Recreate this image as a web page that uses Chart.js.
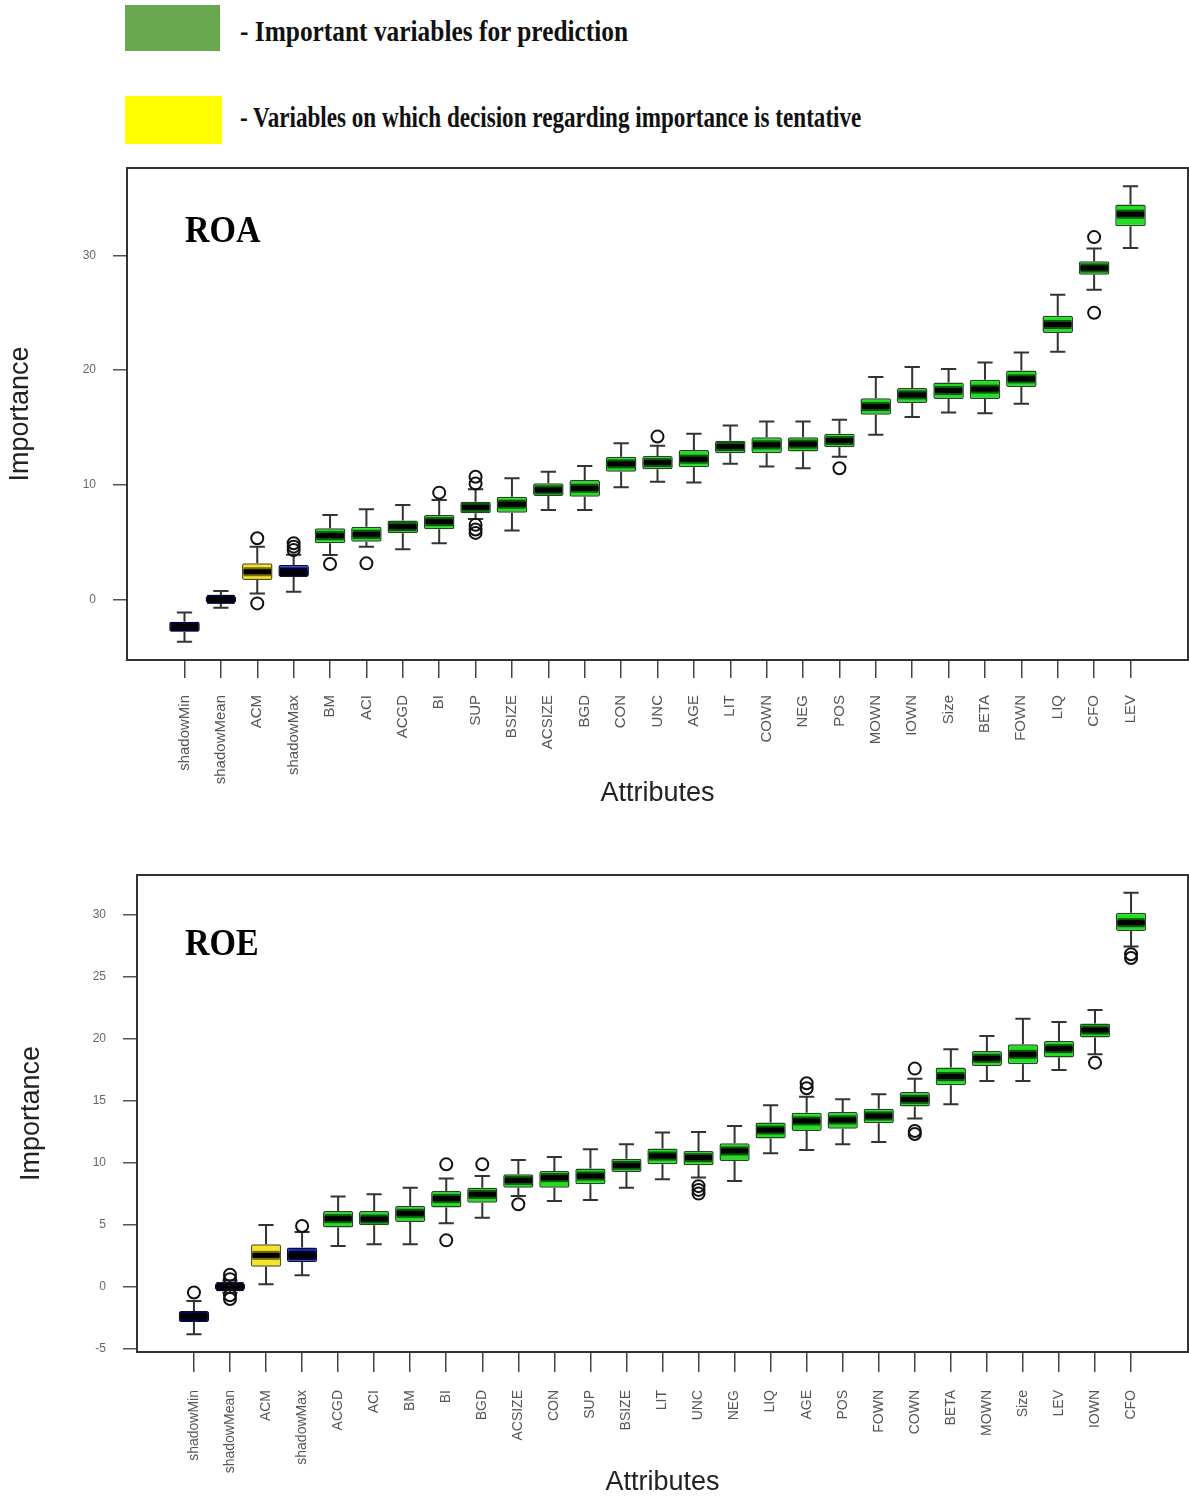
<!DOCTYPE html>
<html>
<head>
<meta charset="utf-8">
<script src="https://cdn.jsdelivr.net/npm/chart.js@4.4.1/dist/chart.umd.min.js"></script>
<style>
  html, body { margin: 0; padding: 0; background: #fff; width: 1189px; height: 1499px; overflow: hidden; }
  canvas { position: absolute; left: 0; }
  .key { position: absolute; left: 125px; }
  .key-text { position: absolute; left: 240px; font: bold 25px 'Liberation Serif', 'Times New Roman', serif; line-height: 30px; color: #111; white-space: nowrap; transform-origin: left center; }
  .panel-label { position: absolute; left: 185px; font: bold 34px 'Liberation Serif', 'Times New Roman', serif; line-height: 34px; color: #000; transform: scaleY(1.1); transform-origin: left center; }
</style>
</head>
<body>

<div class="key" style="top:5px; width:95px; height:46px; background:#6aa84f;"></div>
<div class="key-text" style="top:17px; transform: scale(1.015, 1.18);">- Important variables for prediction</div>
<div class="key" style="top:96px; width:97px; height:48px; background:#ffff00;"></div>
<div class="key-text" style="top:103px; transform: scale(0.925, 1.18);">- Variables on which decision regarding importance is tentative</div>

<canvas id="roaChart" width="1189" height="660" style="top:160px"></canvas>
<canvas id="roeChart" width="1189" height="639" style="top:860px"></canvas>

<div class="panel-label" style="top:213px;">ROA</div>
<div class="panel-label" style="top:926px;">ROE</div>

<script>
// ROA panel
const roaLabels = ['shadowMin', 'shadowMean', 'ACM', 'shadowMax', 'BM', 'ACI', 'ACGD', 'BI', 'SUP', 'BSIZE', 'ACSIZE', 'BGD', 'CON', 'UNC', 'AGE', 'LIT', 'COWN', 'NEG', 'POS', 'MOWN', 'IOWN', 'Size', 'BETA', 'FOWN', 'LIQ', 'CFO', 'LEV'];
const roaDecision = ['shadow', 'shadow', 'tentative', 'shadow', 'confirmed', 'confirmed', 'confirmed', 'confirmed', 'confirmed', 'confirmed', 'confirmed', 'confirmed', 'confirmed', 'confirmed', 'confirmed', 'confirmed', 'confirmed', 'confirmed', 'confirmed', 'confirmed', 'confirmed', 'confirmed', 'confirmed', 'confirmed', 'confirmed', 'confirmed', 'confirmed'];
const roaLow  = [-3.7, -0.73, 0.52, 0.66, 3.87, 4.6, 4.37, 4.89, 7.0, 6.0, 7.8, 7.8, 9.78, 10.27, 10.19, 11.82, 11.58, 11.44, 12.45, 14.35, 15.9, 16.3, 16.24, 17.06, 21.6, 27.0, 30.66];
const roaQ1   = [-2.83, -0.29, 1.69, 1.98, 4.89, 5.03, 5.76, 6.11, 7.51, 7.56, 9.02, 8.96, 11.14, 11.35, 11.53, 12.75, 12.75, 12.89, 13.27, 16.1, 17.12, 17.47, 17.47, 18.52, 23.23, 28.32, 32.55];
const roaMed  = [-2.39, 0, 2.41, 2.36, 5.56, 5.67, 6.34, 6.78, 8.03, 8.3, 9.55, 9.69, 11.82, 11.93, 12.23, 13.33, 13.48, 13.54, 13.85, 16.82, 17.84, 18.22, 18.34, 19.24, 23.98, 28.91, 33.6];
const roaQ3   = [-1.96, 0.29, 3.14, 3.0, 6.2, 6.34, 6.87, 7.36, 8.52, 8.96, 10.13, 10.42, 12.45, 12.5, 13.04, 13.83, 14.15, 14.15, 14.44, 17.55, 18.43, 18.92, 19.15, 19.97, 24.74, 29.5, 34.44];
const roaHigh = [-1.14, 0.72, 4.6, 3.9, 7.36, 7.86, 8.24, 8.67, 9.6, 10.57, 11.14, 11.64, 13.62, 13.39, 14.44, 15.16, 15.51, 15.51, 15.66, 19.39, 20.26, 20.09, 20.66, 21.54, 26.58, 30.6, 36.04];
const roaOutliers = [[], [], [5.33, -0.35], [4.3, 4.6, 4.9], [3.08], [3.14], [], [9.31], [10.1, 10.7, 6.5, 6.1, 5.8], [], [], [], [], [14.2], [], [], [], [], [11.44], [], [], [], [], [], [], [31.6, 25.0], []];
const roaTicks = [0, 10, 20, 30];

// ROE panel
const roeLabels = ['shadowMin', 'shadowMean', 'ACM', 'shadowMax', 'ACGD', 'ACI', 'BM', 'BI', 'BGD', 'ACSIZE', 'CON', 'SUP', 'BSIZE', 'LIT', 'UNC', 'NEG', 'LIQ', 'AGE', 'POS', 'FOWN', 'COWN', 'BETA', 'MOWN', 'Size', 'LEV', 'IOWN', 'CFO'];
const roeDecision = ['shadow', 'shadow', 'tentative', 'shadow', 'confirmed', 'confirmed', 'confirmed', 'confirmed', 'confirmed', 'confirmed', 'confirmed', 'confirmed', 'confirmed', 'confirmed', 'confirmed', 'confirmed', 'confirmed', 'confirmed', 'confirmed', 'confirmed', 'confirmed', 'confirmed', 'confirmed', 'confirmed', 'confirmed', 'confirmed', 'confirmed'];
const roeLow  = [-3.85, -0.5, 0.19, 0.91, 3.28, 3.41, 3.41, 5.1, 5.56, 7.3, 6.9, 6.99, 7.98, 8.65, 8.79, 8.52, 10.75, 11.02, 11.48, 11.66, 13.55, 14.7, 16.58, 16.58, 17.47, 18.73, 27.42];
const roeQ1   = [-2.85, -0.27, 1.61, 1.99, 4.76, 4.94, 5.21, 6.37, 6.77, 7.98, 7.98, 8.25, 9.24, 9.86, 9.78, 10.13, 11.94, 12.55, 12.74, 13.17, 14.52, 16.23, 17.79, 17.93, 18.47, 20.08, 28.68];
const roeMed  = [-2.42, 0, 2.52, 2.52, 5.48, 5.45, 5.91, 7.1, 7.44, 8.57, 8.79, 8.92, 9.78, 10.53, 10.4, 10.94, 12.63, 13.36, 13.44, 13.76, 15.1, 16.94, 18.41, 18.73, 19.19, 20.69, 29.35];
const roeQ3   = [-1.97, 0.27, 3.41, 3.15, 6.1, 6.1, 6.5, 7.71, 7.98, 9.06, 9.32, 9.52, 10.32, 11.13, 10.94, 11.56, 13.23, 14.03, 14.08, 14.35, 15.69, 17.66, 19.0, 19.54, 19.81, 21.21, 30.16];
const roeHigh = [-1.16, 0.5, 4.97, 4.4, 7.26, 7.44, 7.98, 8.71, 8.92, 10.21, 10.45, 11.07, 11.48, 12.42, 12.47, 12.95, 14.62, 15.32, 15.1, 15.51, 16.77, 19.14, 20.21, 21.61, 21.34, 22.31, 31.77];
const roeOutliers = [[-0.48], [0.6, 0.95, -0.7, -1.0], [], [4.89], [], [], [], [9.86, 3.73], [9.86], [6.64], [], [], [], [], [8.1, 7.8, 7.5], [], [], [16.0, 16.4], [], [], [17.58, 12.55, 12.3], [], [], [], [], [18.06], [26.8, 26.5]];
const roeTicks = [-5, 0, 5, 10, 15, 20, 25, 30];

// colours for each Boruta decision
const decisionStyle = {
  confirmed: { fill: '#22dd22', border: '#1f4a1f', band: '#0b5a0b' },
  tentative: { fill: '#f2e42a', border: '#5a5210', band: '#7a6c00' },
  shadow:    { fill: '#1b2fb4', border: '#0a0a40', band: '#000033' }
};

Chart.defaults.font.family = "'Liberation Sans', Arial, sans-serif";

// keep the plot box exactly where we put it
function noPadding(s) {
  s.paddingTop = 0;
  s.paddingBottom = 0;
  s.paddingLeft = 0;
  s.paddingRight = 0;
}

function buildChart(canvasId, p) {
  const n = p.labels.length;
  const all = p.low.concat(p.high, ...p.outliers);
  const lo = Math.min(...all), hi = Math.max(...all);
  const pad = (hi - lo) * 0.04;
  const fills = p.decision.map(d => decisionStyle[d].fill);
  const borders = p.decision.map(d => decisionStyle[d].border);
  if (p.darkFirst) fills[0] = '#101018';

  const outlierPoints = [];
  p.outliers.forEach((vals, i) => vals.forEach(v => outlierPoints.push({ x: i + 1, y: v })));

  const boxParts = {
    id: 'boxParts',
    beforeDatasetsDraw(chart) {
      const { ctx, scales: { x, y } } = chart;
      const bars = chart.getDatasetMeta(0).data;
      ctx.save();
      ctx.strokeStyle = '#333';
      ctx.lineWidth = 2;
      for (let i = 0; i < n; i++) {
        const px = x.getPixelForValue(i + 1);
        const half = bars[i].width / 4;
        const yLow = y.getPixelForValue(p.low[i]);
        const yHigh = y.getPixelForValue(p.high[i]);
        ctx.beginPath();
        ctx.moveTo(px, y.getPixelForValue(p.q3[i]));
        ctx.lineTo(px, yHigh);
        ctx.moveTo(px - half, yHigh);
        ctx.lineTo(px + half, yHigh);
        ctx.moveTo(px, y.getPixelForValue(p.q1[i]));
        ctx.lineTo(px, yLow);
        ctx.moveTo(px - half, yLow);
        ctx.lineTo(px + half, yLow);
        ctx.stroke();
      }
      ctx.restore();
    },
    afterDatasetDraw(chart, args) {
      if (args.index !== 0) return;
      const { ctx, scales: { y } } = chart;
      const bars = chart.getDatasetMeta(0).data;
      ctx.save();
      bars.forEach((bar, i) => {
        const ym = y.getPixelForValue(p.med[i]);
        const x0 = bar.x - bar.width / 2 + 1.5;
        const x1 = bar.x + bar.width / 2 - 1.5;
        ctx.strokeStyle = decisionStyle[p.decision[i]].band;
        ctx.lineWidth = 9;
        ctx.beginPath(); ctx.moveTo(x0, ym); ctx.lineTo(x1, ym); ctx.stroke();
        ctx.strokeStyle = '#000';
        ctx.lineWidth = 5;
        ctx.beginPath(); ctx.moveTo(x0, ym); ctx.lineTo(x1, ym); ctx.stroke();
      });
      ctx.restore();
    },
    afterDraw(chart) {
      const { ctx, chartArea: a } = chart;
      ctx.save();
      ctx.strokeStyle = '#333';
      ctx.lineWidth = 2;
      ctx.strokeRect(a.left, a.top, a.right - a.left, a.bottom - a.top);
      ctx.restore();
    }
  };

  return new Chart(document.getElementById(canvasId), {
    type: 'bar',
    data: {
      datasets: [{
        type: 'bar',
        data: p.labels.map((l, i) => ({ x: i + 1, y: [p.q1[i], p.q3[i]] })),
        backgroundColor: fills,
        borderColor: borders,
        borderWidth: 1.5,
        borderSkipped: false,
        borderRadius: 2,
        barPercentage: 0.84,
        categoryPercentage: 1,
        order: 1
      }, {
        type: 'scatter',
        data: outlierPoints,
        pointStyle: 'circle',
        pointRadius: 6,
        borderColor: '#111',
        borderWidth: 2,
        backgroundColor: 'rgba(255,255,255,0)',
        order: 0
      }]
    },
    options: {
      responsive: false,
      animation: false,
      events: [],
      layout: { autoPadding: false, padding: { top: p.padTop, right: 1, left: 0, bottom: 0 } },
      plugins: { legend: { display: false }, tooltip: { enabled: false } },
      scales: {
        x: {
          type: 'linear',
          min: 0.5 - n * 0.04,
          max: n + 0.5 + n * 0.04,
          offset: false,
          afterBuildTicks: s => { s.ticks = p.labels.map((l, i) => ({ value: i + 1 })); },
          afterFit: s => { s.height = p.xHeight; noPadding(s); },
          ticks: {
            autoSkip: false,
            minRotation: 90,
            maxRotation: 90,
            padding: p.xPad,
            color: '#555',
            font: { size: p.xFont },
            callback: v => p.labels[v - 1]
          },
          grid: { offset: false, drawOnChartArea: false, drawTicks: true, tickLength: p.xTick, color: '#444', lineWidth: 1.5 },
          border: { display: false },
          title: {
            display: true,
            text: 'Attributes',
            color: '#222',
            font: { family: "'Liberation Sans Narrow', 'Liberation Sans', Arial, sans-serif", size: 27, lineHeight: 1 },
            padding: { top: 0, bottom: p.xTitlePad }
          }
        },
        y: {
          min: lo - pad,
          max: hi + pad,
          afterBuildTicks: s => { s.ticks = p.ticks.map(v => ({ value: v })); },
          afterFit: s => { s.width = p.yWidth; noPadding(s); },
          ticks: { padding: 17, color: '#666', font: { size: 12 } },
          grid: { drawOnChartArea: false, drawTicks: true, tickLength: 14, color: '#555', lineWidth: 1.5 },
          border: { display: false },
          title: {
            display: true,
            text: 'Importance',
            color: '#222',
            font: { size: 27, lineHeight: 1 },
            padding: { top: p.yTitlePad, bottom: 0 }
          }
        }
      }
    },
    plugins: [boxParts]
  });
}

buildChart('roaChart', {
  labels: roaLabels, decision: roaDecision, low: roaLow, q1: roaQ1, med: roaMed, q3: roaQ3, high: roaHigh,
  outliers: roaOutliers, ticks: roaTicks, darkFirst: true,
  padTop: 8, xHeight: 160, yWidth: 127, xTick: 18, xPad: 17, xFont: 15, xTitlePad: 13, yTitlePad: 7
});

buildChart('roeChart', {
  labels: roeLabels, decision: roeDecision, low: roeLow, q1: roeQ1, med: roeMed, q3: roeQ3, high: roeHigh,
  outliers: roeOutliers, ticks: roeTicks, darkFirst: false,
  padTop: 15, xHeight: 147, yWidth: 137, xTick: 20, xPad: 18, xFont: 14, xTitlePad: 3, yTitlePad: 18
});
</script>
</body>
</html>
